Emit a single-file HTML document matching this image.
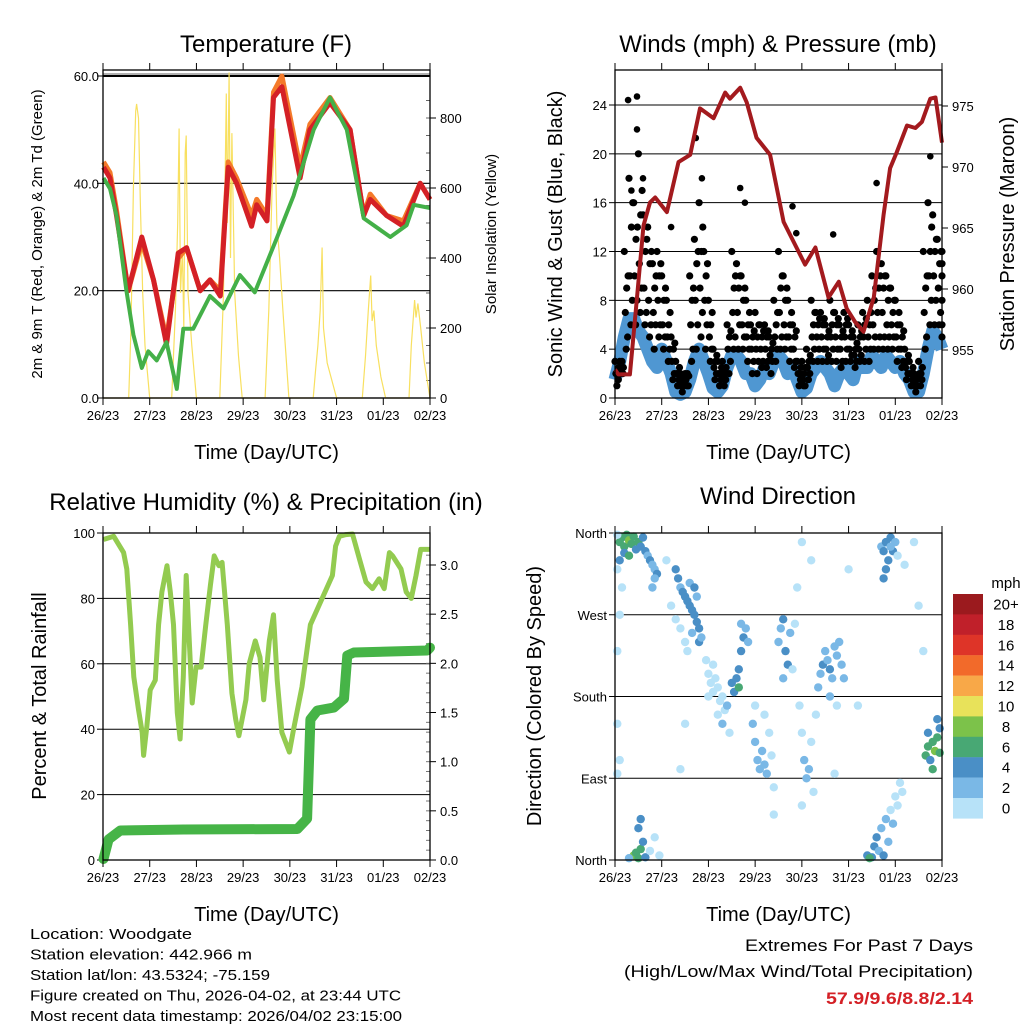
<!DOCTYPE html>
<html><head><meta charset="utf-8"><style>
html,body{margin:0;padding:0;background:#fff;}
svg{display:block;font-family:"Liberation Sans",Arial,sans-serif;}
</style></head><body>
<svg id="fig" xmlns="http://www.w3.org/2000/svg" width="1024" height="1024" viewBox="0 0 1024 1024">
<rect x="0" y="0" width="1024" height="1024" fill="#fff"/>
<g id="root"></g>
</svg>
<script>
// ---------- DATA ----------
const dayLabels = ["26/23","27/23","28/23","29/23","30/23","31/23","01/23","02/23"];
// Temperature panel
const tempT  = [0.01,0.15,0.29,0.54,0.83,1.08,1.36,1.61,1.79,2.08,2.29,2.51,2.68,2.86,3.18,3.29,3.51,3.65,3.83,4.22,4.43,4.86,5.29,5.58,5.72,6.07,6.43,6.79,7.0];
const tempRed    = [43,41,34,20,30,22,10,27,28,20,22,19,43,40,32,36,33,56,58,41,50,55,50,34,37,34,32,40,37];
const tempOrange = [44,42,35,20,29,22,11,26,28,20,22,20,44,41,34,37,34,57,60,43,51,56,50,34,38,34,33,40,37];
const dewT = [0.01,0.15,0.29,0.5,0.65,0.83,0.97,1.15,1.36,1.58,1.72,1.93,2.29,2.58,2.93,3.25,3.72,4.08,4.51,4.86,5.22,5.58,6.15,6.5,6.65,7.0];
const dewGreen = [41,39,34,20,11.8,5.6,8.7,7,10.4,1.7,12.9,12.9,19,16.7,22.9,19.7,29.8,37.7,50,56,50,33.5,30,32.2,36,35.4];
const solarT = [0,0.55,0.6,0.65,0.7,0.72,0.76,0.8,0.85,0.9,1.0,1.47,1.55,1.6,1.63,1.66,1.7,1.73,1.76,1.78,1.82,1.9,2.0,2.5,2.58,2.64,2.66,2.7,2.73,2.76,2.82,2.9,2.98,3.47,3.55,3.62,3.68,3.72,3.78,3.85,3.98,4.5,4.55,4.6,4.65,4.69,4.72,4.8,5.0,5.55,5.62,5.68,5.73,5.76,5.8,5.85,5.95,6.05,6.55,6.6,6.67,6.7,6.74,6.8,6.88,7.0];
const solarV = [0,0,200,600,820,840,800,550,300,150,0,0,250,500,770,300,420,200,700,750,300,150,0,0,300,870,500,930,400,757,300,120,0,0,250,600,770,500,400,250,0,0,80,150,250,430,200,100,0,0,120,250,350,220,250,150,60,0,0,150,280,230,270,200,100,0];
const tempTicks = [0,20,40,60];
const solarTicks = [0,200,400,600,800];
// Winds panel (0.1 day step)
const windBlue = [1.5,3,5,6.5,6.5,5.5,5,4,3,2.5,4,3,2,0.5,0.3,0.5,1.5,3,4,3,2,0.8,0.5,1,2.5,3.5,3.5,3,2,2,1,1.5,2.5,2,3,3.5,3,2,2.5,1.5,0.5,0.8,2,2.5,3,2.5,2,1,2,2.5,2,1.5,3,2.5,2.5,3.5,3,2.5,3.5,3,2.5,3,2,1.5,0.5,0.5,2,4,5.5,5,4];
const gustA = [3,3,12,18,16,20,15,14,11,12,10,8,5,3,2,2,10,13,16,12,8,4,3,3,6,12,11,10,8,6,7,6,6,5,8,12,10,8,6,3,3,4,8,7,7,6,8,7,6,7,6,5,6,7,8,10,12,11,10,9,8,6,4,3,2,3,12,16,15,13,12];
const gustB = [2,3,9,14,13,15,12,11,9,10,8,6,4,2,1.5,2,8,11,12,10,6,3,2,2,5,9,9,8,6,5,5,5,5,4,6,9,8,6,5,2,2,3,6,6,6,5,6,6,5,6,5,4,5,6,6,8,9,9,8,7,6,5,3,2,1.5,2,9,12,12,11,10];
const gustC = [2,2,7,10,10,11,9,8,7,8,6,5,3,2,1,1.5,6,8,9,8,5,2.5,2,2,4,7,7,6,5,4,4,4,4,3.5,5,7,6,5,4,2,1.5,2.5,5,5,5,4,5,5,4,5,4,3.5,4,5,5,6,7,7,6,6,5,4,2.5,2,1,2,7,10,10,9,8];
const gustD = [1.5,2,5,8,8,9,7,6,6,6,5,4,2,1.5,1,1,4,6,7,6,4,2,1.5,1.5,3,5,6,5,4,3,3,3,3,3,4,5,5,4,3,1.5,1,2,4,4,4,3.5,4,4,3,4,3.5,3,3.5,4,4,5,5,5,5,5,4,3,2,1.5,1,1.5,5,8,8,7,6];
const gustE = [1,2,4,6,6,7,6,5,4,5,4,3,1.5,1,0.5,1,3,4,5,4,3,1.5,1,1,2,4,4,4,3,2,2,2.5,2.5,2,3,4,4,3,2.5,1,1,1.5,3,3,3,3,3,3,2.5,3,3,2.5,3,3,3,4,4,4,4,4,3,2.5,1.5,1,0.5,1,4,6,6,6,5];
const gustF = [2.5,2.5,10,16,14,17,13,12,10,11,9,7,4.5,2.5,1.8,1.8,9,12,14,11,7,3.5,2.5,2.5,5.5,10,10,9,7,5.5,6,5.5,5.5,4.5,7,10,9,7,5.5,2.5,2.5,3.5,7,6.5,6.5,5.5,7,6.5,5.5,6.5,5.5,4.5,5.5,6.5,7,9,10,10,9,8,7,5.5,3.5,2.5,1.8,2.5,10,14,13,12,11];
const gustOutT = [0.28,0.47,0.47,0.5,0.35,1.73,1.86,2.68,2.78,3.8,3.88,4.67,5.6,6.75,0.6,1.2];
const gustOutV = [24.4,24.7,22,20,17,21.3,18,17.2,16,15.7,13.5,13.4,17.6,19.8,18,14];
const presT = [0.0,0.07,0.32,0.47,0.61,0.75,0.86,1.11,1.36,1.61,1.82,2.11,2.36,2.46,2.68,2.82,3.03,3.32,3.61,3.82,4.07,4.29,4.57,4.79,4.96,5.14,5.32,5.54,5.75,5.89,6.03,6.25,6.43,6.57,6.75,6.86,7.0];
const presV = [953.4,953,953,959.3,965.2,967.1,967.5,966.3,970.4,971,974.8,974,976.1,975.6,976.5,975.3,972.4,971,965.5,963.9,962,963.4,959.3,960.6,958.4,957.3,956.5,959.3,966.1,969.9,971.2,973.4,973.2,973.7,975.6,975.7,972];
const windTicks = [0,4,8,12,16,20,24];
const presTicks = [955,960,965,970,975];
// RH panel
const rhT = [0.01,0.23,0.44,0.51,0.59,0.66,0.76,0.84,0.87,0.94,1.01,1.12,1.19,1.26,1.37,1.44,1.51,1.59,1.65,1.72,1.78,1.91,1.99,2.1,2.2,2.3,2.38,2.48,2.55,2.66,2.76,2.84,2.91,3.06,3.13,3.26,3.36,3.44,3.56,3.65,3.73,3.83,3.99,4.08,4.26,4.44,4.91,4.98,5.06,5.2,5.34,5.49,5.63,5.77,5.91,6.02,6.13,6.2,6.38,6.49];
const rhV = [98,99,94,89,72,56,46,39,32,41,52,55,72,82,90,82,72,45,37,56,87,48,59,59,72,84,93,90,91,72,51,43,38,49,60,67,62,49,67,75,55,39,33,40,53,72,87,96,99,99.5,99.7,92,85,83,86,83,94,93,89,82];
const rhT2 = [6.6,6.7,6.8,6.93,7.0];
const rhV2 = [80,87,95,95,95];
const rainT = [0.01,0.12,0.37,1.73,4.16,4.37,4.44,4.59,4.94,5.16,5.23,5.37,6.94,7.0];
const rainV = [0.01,0.21,0.30,0.31,0.315,0.42,1.43,1.52,1.55,1.64,2.08,2.11,2.13,2.16];
const rhTicks = [0,20,40,60,80,100];
const rainTicks = [0,0.5,1,1.5,2,2.5,3];
// Wind direction panel: time (days), direction (deg), speed class (0..4 -> 0,2,4,6,8 mph)
const dirT = [0.1,0.15,0.2,0.25,0.3,0.35,0.4,0.45,0.5,0.55,0.6,0.2,0.1,0.3,0.65,0.7,0.75,0.8,0.85,0.9,0.8,0.85,0.05,0.15,0.05,
1.3,1.35,1.4,1.45,1.5,1.55,1.6,1.65,1.7,1.75,1.8,1.6,1.7,1.75,1.2,1.3,1.4,1.5,1.55,1.65,1.8,1.85,
1.95,2.0,2.05,2.1,2.15,2.2,2.25,2.3,2.35,2.4,2.1,2.2,2.3,2.45,2.0,
2.5,2.55,2.6,2.65,2.7,2.75,2.8,2.65,2.7,2.85,
2.95,3.0,3.05,3.1,3.15,3.2,3.25,3.3,3.35,3.0,3.2,3.4,
3.5,3.55,3.6,3.65,3.7,3.75,3.6,3.8,3.85,
3.95,4.0,4.05,4.1,4.15,4.2,4.25,4.3,4.0,
4.35,4.4,4.45,4.5,4.55,4.6,4.65,4.7,4.75,4.8,4.85,4.9,4.6,4.75,
5.7,5.75,5.8,5.85,5.9,5.95,6.0,5.8,5.75,5.9,6.05,6.2,
5.4,5.5,5.55,5.6,5.65,5.7,5.75,5.8,5.85,5.9,5.95,6.0,6.05,6.1,6.15,5.45,
6.65,6.7,6.75,6.8,6.85,6.9,6.95,6.7,6.8,6.9,6.95,
0.4,0.45,0.5,0.55,0.6,0.65,0.5,0.55,0.3,0.75,0.85,0.95,
0.05,0.05,0.1,0.05,0.1,3.9,4.2,4.0,5.0,6.4,6.5,6.6,4.7,3.4,5.2,1.4,1.5,1.1];
const dirV = [350,355,345,358,352,348,356,342,350,345,355,338,330,335,340,335,330,325,320,315,300,310,320,300,358,
320,310,300,295,290,285,280,275,270,262,255,305,300,290,280,265,255,240,230,250,240,245,
220,205,195,185,200,190,175,180,165,170,215,160,150,140,180,
195,185,200,210,230,245,255,190,260,240,
150,130,110,100,120,105,95,140,115,170,160,80,
240,255,265,230,215,250,200,210,260,
170,140,110,90,100,130,75,160,60,
190,205,215,230,220,210,200,235,225,240,215,200,180,170,
345,340,350,330,355,340,350,320,310,345,335,325,
5,3,15,25,10,35,5,45,20,55,40,70,60,85,75,2,
115,125,110,130,120,135,145,140,100,155,118,
5,8,2,12,20,3,35,45,2,10,25,5,
230,150,110,95,270,300,330,350,320,350,280,230,95,50,170,100,150,330];
const dirS = [3,3,3,3,4,3,3,2,3,2,2,2,2,3,2,1,2,1,1,2,1,1,0,0,0,
2,2,1,2,2,2,2,2,2,2,2,1,2,1,0,0,0,0,0,1,2,1,
0,0,0,0,0,0,0,0,0,1,0,0,1,0,0,
2,2,2,2,2,2,1,3,1,1,
1,1,1,1,1,1,1,0,0,0,0,0,
1,1,2,2,2,1,1,0,0,
0,0,1,1,1,0,0,0,0,
1,1,2,1,1,2,1,1,1,1,1,1,1,0,
1,2,2,2,2,2,1,2,2,1,0,0,
2,2,2,2,1,1,2,1,1,0,1,0,0,0,0,3,
3,3,2,3,4,3,2,2,3,2,3,
4,3,3,3,2,2,2,2,1,0,0,0,
0,0,0,0,0,0,0,0,0,0,0,0,0,0,0,0,0,0];
const dirTickLabels = ["North","East","South","West","North"];
const barLabels = ["20+","18","16","14","12","10","8","6","4","2","0"];
const barColors = ["#9b1a1e","#c0202a","#de3428","#f26a2a","#f8a848","#e8e25a","#7cc24a","#48a874","#4a8fc6","#7ab8e6","#b7e2f8"];
const speedColors = ["#b7e2f8","#7ab8e6","#4a8fc6","#48a874","#7cc24a"];

// ---------- HELPERS ----------
const NS = "http://www.w3.org/2000/svg";
const root = document.getElementById("root");
function mk(tag, attrs, parent, txt){
  const e = document.createElementNS(NS, tag);
  for (const k in attrs) e.setAttribute(k, attrs[k]);
  if (txt !== undefined) e.textContent = txt;
  (parent || root).appendChild(e);
  return e;
}
function lin(d0,d1,r0,r1){ return v => r0 + (v-d0)/(d1-d0)*(r1-r0); }
function pathFrom(ts, vs, sx, sy){
  let d = "";
  for (let i=0;i<Math.min(ts.length,vs.length);i++) d += (i?"L":"M") + sx(ts[i]).toFixed(1) + "," + sy(vs[i]).toFixed(1);
  return d;
}
function panelFrame(g, L, T, R, B, xs){
  for (let i=0;i<dayLabels.length;i++){
    const x = xs(i);
    mk("line",{x1:x,y1:B,x2:x,y2:B+7,stroke:"#000","stroke-width":1},g);
    mk("line",{x1:x,y1:T,x2:x,y2:T-7,stroke:"#000","stroke-width":1},g);
    const t = mk("text",{x:x,y:B+22,"font-size":13,"text-anchor":"middle"},g,dayLabels[i]);
    
    
  }
  const xt = mk("text",{x:(L+R)/2,y:B+61,"font-size":20,"text-anchor":"middle"},g,"Time (Day/UTC)");
  
  
}
function boxRect(g,L,T,R,B){
  const r = mk("rect",{x:L,y:T,width:R-L,height:B-T,fill:"none",stroke:"#000","stroke-width":1.3},g);
  
  
}
function rotText(g,x,y,size,txt,name){
  const t = mk("text",{x:0,y:0,"font-size":size,"text-anchor":"middle",transform:`translate(${x},${y}) rotate(-90)`},g,txt);
  
  
  return t;
}

// ---------- PANEL 1: TEMPERATURE ----------
(function(){
  const L=103,T=70,R=430,B=398;
  const g = mk("g",{});
  
  
  const xs = lin(0,7,L,R), ys = lin(0,60,398,76), ys2 = lin(0,800,398,118);
  const tt = mk("text",{x:266,y:52,"font-size":24,"text-anchor":"middle"},g,"Temperature (F)");
  
  
  tempTicks.forEach(v=>{
    const y = ys(v);
    mk("line",{x1:L,y1:y,x2:R,y2:y,stroke: v===0?"#888":"#000","stroke-width":v===60?2:1.2},g);
    if (v===60) mk("line",{x1:L,y1:y-2,x2:R,y2:y-2,stroke:"#666","stroke-width":1},g);
    mk("line",{x1:L-6,y1:y,x2:L,y2:y,stroke:"#000"},g);
    const t = mk("text",{x:L-4,y:y+5,"font-size":13,"text-anchor":"end"},g,v.toFixed(1));
    
    
  });
  solarTicks.forEach(v=>{
    const y = ys2(v);
    mk("line",{x1:R,y1:y,x2:R+6,y2:y,stroke:"#000"},g);
    const t = mk("text",{x:R+10,y:y+5,"font-size":13},g,String(v));
    
    
  });
  for (let v=50; v<900; v+=50){ const y=ys2(v); if(y>T) mk("line",{x1:R-4,y1:y,x2:R,y2:y,stroke:"#666"},g); }
  const sol = mk("path",{d:pathFrom(solarT,solarV,xs,ys2),fill:"none",stroke:"#f8e060","stroke-width":1.2},g);
  
  
  const or = mk("path",{d:pathFrom(tempT,tempOrange,xs,ys),fill:"none",stroke:"#f47a2a","stroke-width":5,"stroke-linejoin":"round"},g);
  
  
  const rd = mk("path",{d:pathFrom(tempT,tempRed,xs,ys),fill:"none",stroke:"#d42026","stroke-width":5,"stroke-linejoin":"round"},g);
  
  
  const gr = mk("path",{d:pathFrom(dewT,dewGreen,xs,ys),fill:"none",stroke:"#44b048","stroke-width":4,"stroke-linejoin":"round"},g);
  
  
  boxRect(g,L,T,R,B);
  panelFrame(g,L,T,R,B,xs);
  rotText(g,42,234,15,"2m & 9m T (Red, Orange) & 2m Td (Green)","temp-y-axis-title");
  rotText(g,496,234,15,"Solar Insolation (Yellow)","solar-y-axis-title");
})();

// ---------- PANEL 2: WINDS ----------
(function(){
  const L=615,T=70,R=942,B=398;
  const g = mk("g",{});
  
  
  const xs = lin(0,7,L,R), ys = lin(0,24,398,105), yp = lin(955,975,350,106);
  const tt = mk("text",{x:778,y:52,"font-size":24,"text-anchor":"middle"},g,"Winds (mph) & Pressure (mb)");
  
  
  windTicks.forEach(v=>{
    const y = ys(v);
    if (v>0) mk("line",{x1:L,y1:y,x2:R,y2:y,stroke:"#000","stroke-width":1},g);
    mk("line",{x1:L-6,y1:y,x2:L,y2:y,stroke:"#000"},g);
    const t = mk("text",{x:L-8,y:y+5,"font-size":13,"text-anchor":"end"},g,String(v));
    
    
  });
  presTicks.forEach(v=>{
    const y = yp(v);
    mk("line",{x1:R,y1:y,x2:R+6,y2:y,stroke:"#000"},g);
    const t = mk("text",{x:R+10,y:y+5,"font-size":13},g,String(v));
    
    
  });
  const wT = windBlue.map((_,i)=>i*0.1);
  const bl = mk("path",{d:pathFrom(wT,windBlue,xs,ys),fill:"none",stroke:"#4f97d2","stroke-width":13,"stroke-linejoin":"round"},g);
  
  
  const series = [[gustA,0],[gustB,0.05],[gustC,0.02],[gustD,0.07],[gustE,0.04],[gustF,0.08]];
  series.forEach(([arr,off])=>{
    arr.forEach((v,i)=>{
      const t = Math.min(7, i*0.1+off);
      const c = mk("circle",{cx:xs(t).toFixed(1),cy:ys(v).toFixed(1),r:3.6,fill:"#000"},g);
      
      
    });
  });
  gustOutT.forEach((t,i)=>{
    const c = mk("circle",{cx:xs(t).toFixed(1),cy:ys(gustOutV[i]).toFixed(1),r:3.3,fill:"#000"},g);
    
    
  });
  const pr = mk("path",{d:pathFrom(presT,presV,xs,yp),fill:"none",stroke:"#a31a1e","stroke-width":4,"stroke-linejoin":"round"},g);
  
  
  boxRect(g,L,T,R,B);
  panelFrame(g,L,T,R,B,xs);
  rotText(g,562,234,20,"Sonic Wind & Gust (Blue, Black)","wind-y-axis-title");
  rotText(g,1014,234,20,"Station Pressure (Maroon)","pressure-y-axis-title");
})();

// ---------- PANEL 3: RH & PRECIP ----------
(function(){
  const L=103,T=533,R=430,B=860;
  const g = mk("g",{});
  
  
  const xs = lin(0,7,L,R), ys = lin(0,100,860,533), yr = lin(0,3,860,565);
  const tt = mk("text",{x:266,y:510,"font-size":24,"text-anchor":"middle"},g,"Relative Humidity (%) & Precipitation (in)");
  
  
  rhTicks.forEach(v=>{
    const y = ys(v);
    if (v>0 && v<100) mk("line",{x1:L,y1:y,x2:R,y2:y,stroke:"#000","stroke-width":1},g);
    mk("line",{x1:L-6,y1:y,x2:L,y2:y,stroke:"#000"},g);
    const t = mk("text",{x:L-8,y:y+5,"font-size":13,"text-anchor":"end"},g,String(v));
    
    
  });
  rainTicks.forEach(v=>{
    const y = yr(v);
    mk("line",{x1:R,y1:y,x2:R+6,y2:y,stroke:"#000"},g);
    const t = mk("text",{x:R+10,y:y+5,"font-size":13},g,v.toFixed(1));
    
    
  });
  for (let v=0.1; v<3.2; v+=0.1){ mk("line",{x1:R-4,y1:yr(v),x2:R,y2:yr(v),stroke:"#777"},g); }
  const rh = mk("path",{d:pathFrom(rhT,rhV,xs,ys)+pathFrom(rhT2,rhV2,xs,ys).replace("M","L"),fill:"none",stroke:"#93cb50","stroke-width":5,"stroke-linejoin":"round"},g);
  
  
  const rn = mk("path",{d:pathFrom(rainT,rainV,xs,yr),fill:"none",stroke:"#46b447","stroke-width":10,"stroke-linejoin":"round","stroke-linecap":"round"},g);
  
  
  boxRect(g,L,T,R,B);
  panelFrame(g,L,T,R,B,xs);
  rotText(g,46,696,20,"Percent & Total Rainfall","rh-y-axis-title");
})();

// ---------- PANEL 4: WIND DIRECTION ----------
(function(){
  const L=615,T=533,R=942,B=860;
  const g = mk("g",{});
  
  
  const xs = lin(0,7,L,R), yd = lin(0,360,860,533);
  const tt = mk("text",{x:778,y:504,"font-size":24,"text-anchor":"middle"},g,"Wind Direction");
  
  
  dirTickLabels.forEach((lab,i)=>{
    const y = yd(i*90);
    if (i>0 && i<4) mk("line",{x1:L,y1:y,x2:R,y2:y,stroke:"#000","stroke-width":1},g);
    mk("line",{x1:L-6,y1:y,x2:L,y2:y,stroke:"#000"},g);
    const t = mk("text",{x:L-8,y:y+5,"font-size":13,"text-anchor":"end"},g,lab);
    
    
  });
  dirT.forEach((t,i)=>{
    const c = mk("circle",{cx:xs(t).toFixed(1),cy:yd(dirV[i]).toFixed(1),r:4.2,fill:speedColors[dirS[i]]},g);
    
    
  });
  boxRect(g,L,T,R,B);
  panelFrame(g,L,T,R,B,xs);
  rotText(g,541,696,20,"Direction (Colored By Speed)","direction-y-axis-title");
  const cb = mk("g",{});
  
  
  const u = mk("text",{x:1006,y:588,"font-size":15,"text-anchor":"middle"},cb,"mph");
  
  
  barLabels.forEach((lab,i)=>{
    const y0 = 594 + i*20.4;
    const r = mk("rect",{x:953,y:y0,width:30,height:20.6,fill:barColors[i]},cb);
    
    
    const t = mk("text",{x:1006,y:y0+15.5,"font-size":15,"text-anchor":"middle"},cb,lab);
    
    
  });
})();

// ---------- FOOTER TEXT ----------
(function(){
  const g = mk("g",{});
  
  
  const lines = [["Location: Woodgate",162],["Station elevation: 442.966 m",222],["Station lat/lon: 43.5324; -75.159",240],["Figure created on Thu, 2026-04-02, at 23:44 UTC",371],["Most recent data timestamp: 2026/04/02 23:15:00",372]];
  lines.forEach(([s,w],i)=>{
    const t = mk("text",{x:30,y:939+i*20.5,"font-size":15,textLength:w,lengthAdjust:"spacingAndGlyphs"},g,s);
    
    
  });
  const e1 = mk("text",{x:973,y:951,"font-size":17,"text-anchor":"end",textLength:228,lengthAdjust:"spacingAndGlyphs"},g,"Extremes For Past 7 Days");
  
  
  const e2 = mk("text",{x:973,y:977,"font-size":17,"text-anchor":"end",textLength:349,lengthAdjust:"spacingAndGlyphs"},g,"(High/Low/Max Wind/Total Precipitation)");
  
  
  const e3 = mk("text",{x:973,y:1004,"font-size":17,"font-weight":"bold",fill:"#d42026","text-anchor":"end",textLength:147,lengthAdjust:"spacingAndGlyphs"},g,"57.9/9.6/8.8/2.14");
  
  
})();
</script>
</body></html>
